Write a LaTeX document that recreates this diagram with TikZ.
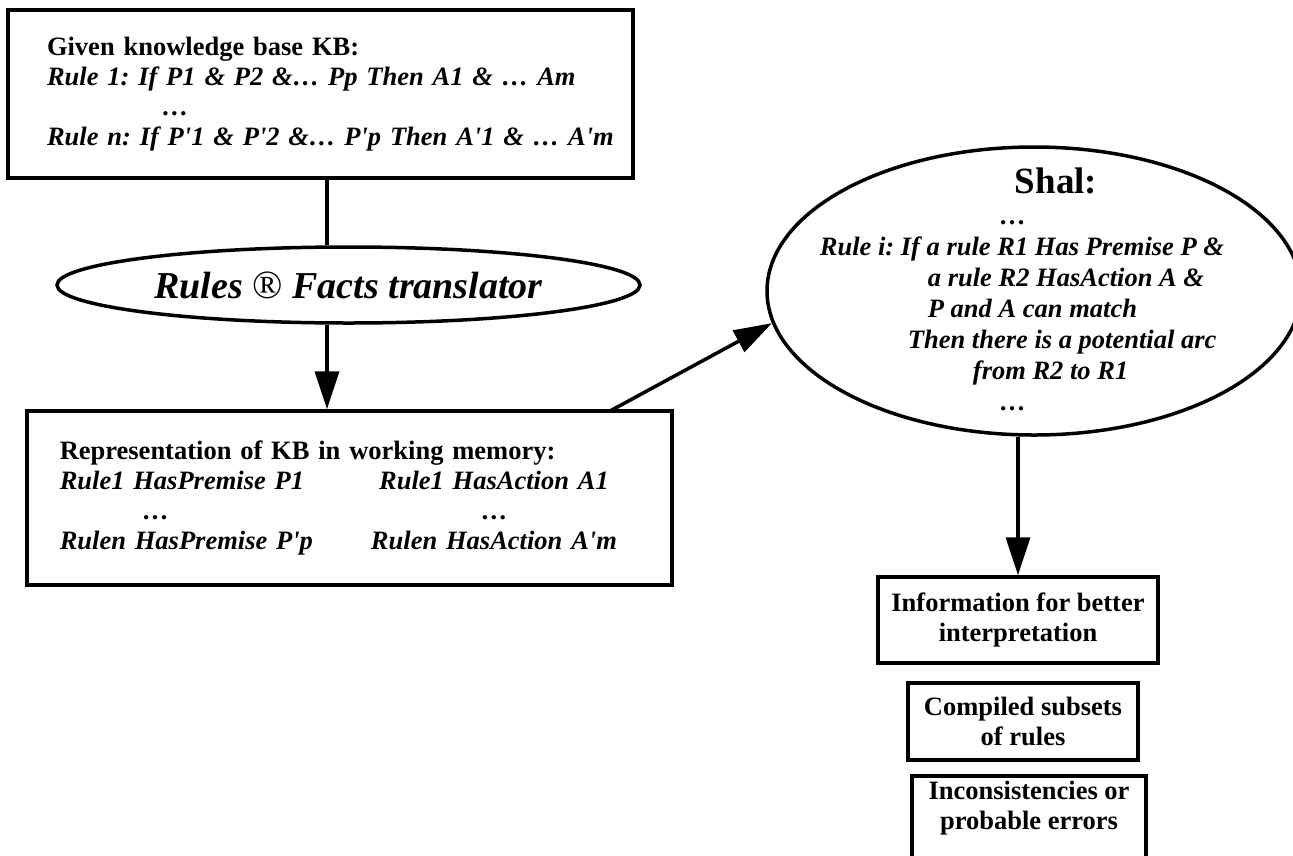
\documentclass[tikz,border=0pt]{standalone}
\usepackage{fontspec}
\setmainfont{Liberation Serif}
\usetikzlibrary{shapes.geometric,arrows.meta}
\frenchspacing

\newcommand\apos{\textquotesingle}
\tikzset{
	box/.style={draw, rectangle, line width=3.5pt},
	oval/.style={draw, ellipse, line width=3.5pt, inner sep=0pt},
	flow/.style={line width=3.5pt, -{Triangle[length=38pt,width=24pt]}},
	txt/.style={font=\fontsize{26.5}{30}\selectfont\bfseries},
	outbox/.style={box, txt, align=center, inner sep=0pt},
}

\begin{document}
\begin{tikzpicture}[x=1pt,y=-1pt]
	\useasboundingbox (0,0) rectangle (1293,855);
	% left column
	\node[box, txt, align=left, text width=547pt, inner xsep=39pt, minimum height=168pt] (kb) at (320.5,94)
		{Given knowledge base KB:\\
		\itshape Rule 1: If P1 \& P2 \&… Pp Then A1 \& … Am\\
		\hspace*{115pt}\itshape …\\
		\mbox{\itshape Rule n: If P\apos1 \& P\apos2 \&… P\apos p Then A\apos1 \& … A\apos m}};
	\node[oval, minimum width=583pt, minimum height=76pt, font=\fontsize{38}{42}\selectfont\bfseries\itshape] (trans) at (348.5,285)
		{Rules {\mdseries\upshape\fontsize{40}{40}\selectfont ®} Facts translator};
	\node[box, txt, align=left, text width=579pt, inner xsep=33pt, minimum height=174pt, anchor=west] (mem) at (25,498)
		{\begin{tabular}{@{}l@{\hspace{58pt}}c@{}}
		\multicolumn{2}{@{}l@{}}{Representation of KB in working memory:}\\
		\itshape Rule1 HasPremise P1 & \itshape Rule1 HasAction A1\\
		\hspace*{82pt}… & …\\
		\itshape Rulen HasPremise P\apos p & \itshape Rulen HasAction A\apos m
		\end{tabular}};
	\coordinate (axis) at (327,0);
	\coordinate (memout) at (610,411);
	% right column
	\node[oval, minimum width=534pt, minimum height=288pt] (shal) at (1034,291) {};
	\node[txt, align=left, font=\fontsize{26.5}{31}\selectfont\bfseries\itshape] (shaltext) at (1022,289)
		{\hspace*{195pt}{\upshape\fontsize{37}{40}\selectfont Shal:}\\
		\hspace*{180pt}…\\
		Rule i: If a rule R1 Has Premise P \&\\
		\hspace*{108pt}a rule R2 HasAction A \&\\
		\hspace*{108pt}P and A can match\\
		\hspace*{88pt}Then there is a potential arc\\
		\hspace*{153pt}from R2 to R1\\
		\hspace*{180pt}…};
	\node[outbox, minimum width=280pt, minimum height=86pt] (info) at (1018,620)
		{Information for better\\interpretation};
	\node[outbox, minimum width=230pt, minimum height=77pt] (subsets) at (1023,721.5)
		{Compiled subsets\\of rules};
	\node[box, minimum width=234pt, minimum height=110pt, anchor=north] (errors) at (1029,774) {};
	\node[txt, align=center] (errorstext) at (1029,808) {Inconsistencies or\\probable errors};
	% connectors
	\draw[line width=3.5pt] (kb.south -| axis) -- (trans.north -| axis);
	\draw[flow] (trans.south -| axis) -- (mem.north -| axis);
	\draw[flow] (memout) -- (shal.187);
	\draw[flow] (shal.south -| info) -- (info.north);
\end{tikzpicture}
\end{document}
